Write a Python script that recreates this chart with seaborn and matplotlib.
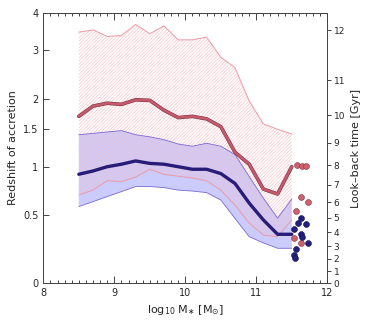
import numpy as np
import pandas as pd
import seaborn as sns
import matplotlib.pyplot as plt
import matplotlib.patheffects as pe
from matplotlib.ticker import MultipleLocator

# Data (redshift of accretion vs stellar mass)
logm = [8.5, 8.7, 8.9, 9.1, 9.3, 9.5, 9.7, 9.9, 10.1, 10.3, 10.5, 10.7, 10.9, 11.1, 11.3, 11.5]
red_hi = [3.46, 3.52, 3.35, 3.37, 3.67, 3.42, 3.63, 3.26, 3.26, 3.33, 2.84, 2.61, 1.96, 1.58, 1.50, 1.43]
red_med = [1.70, 1.87, 1.92, 1.90, 1.98, 1.97, 1.80, 1.68, 1.70, 1.66, 1.54, 1.18, 1.03, 0.75, 0.70, 1.00]
red_lo = [0.69, 0.74, 0.84, 0.83, 0.88, 0.97, 0.91, 0.89, 0.87, 0.84, 0.74, 0.59, 0.43, 0.33, 0.318, 0.456]
blue_hi = [1.42, 1.44, 1.46, 1.48, 1.42, 1.39, 1.35, 1.29, 1.26, 1.30, 1.26, 1.15, 0.886, 0.658, 0.472, 0.65]
blue_med = [0.912, 0.95, 1.0, 1.03, 1.07, 1.04, 1.03, 1.0, 0.97, 0.97, 0.92, 0.81, 0.61, 0.456, 0.337, 0.337]
blue_lo = [0.577, 0.624, 0.674, 0.724, 0.777, 0.777, 0.766, 0.74, 0.73, 0.714, 0.64, 0.47, 0.318, 0.27, 0.23, 0.23]

# individual massive galaxies
red_pts_x = [11.58, 11.64, 11.70, 11.625, 11.73, 11.56, 11.53, 11.625]
red_pts_z = [1.025, 1.01, 1.01, 0.667, 0.618, 0.54, 0.308, 0.272]
blue_pts_x = [11.625, 11.59, 11.70, 11.53, 11.625, 11.64, 11.73, 11.56, 11.53, 11.55]
blue_pts_z = [0.47, 0.43, 0.42, 0.377, 0.337, 0.318, 0.272, 0.223, 0.18, 0.163]

gyr_ticks = list(range(0, 13))

df = pd.DataFrame({'logm': logm, 'red_med': red_med, 'blue_med': blue_med})

sns.set_style('white')
plt.rcParams['font.family'] = ['DejaVu Sans']
plt.rcParams['font.size'] = 7
plt.rcParams['hatch.linewidth'] = 0.45

fig = plt.figure(figsize=(3.74, 3.23), dpi=100)
ax = fig.add_axes([0.1158, 0.1238, 0.7593, 0.836])

# y axis is linear in log10(1+z)
fwd = lambda z: np.log10(1 + np.clip(z, -0.99, None))
inv = lambda y: 10**y - 1
ax.set_yscale('function', functions=(fwd, inv))

pink = '#ec9aa6'
purple = '#7a68d0'

ax.fill_between(logm, blue_lo, blue_hi, facecolor='#cbcbfc', edgecolor='none', lw=0)
ax.fill_between(logm, red_lo, red_hi, facecolor='none', edgecolor='#f6c0c6', hatch='//////////', lw=0)
ax.plot(logm, blue_hi, color=purple, lw=0.6)
ax.plot(logm, blue_lo, color=purple, lw=0.6)
ax.plot(logm, red_hi, color=pink, lw=0.7)
ax.plot(logm, red_lo, color=pink, lw=0.7)

sns.lineplot(data=df, x='logm', y='red_med', color='#c45a6b', lw=1.8, sort=False, ax=ax,
             path_effects=[pe.Stroke(linewidth=2.6, foreground='#7c3342'), pe.Normal()])
sns.lineplot(data=df, x='logm', y='blue_med', color='#281c78', lw=2.4, sort=False, ax=ax)

sns.scatterplot(x=red_pts_x, y=red_pts_z, color='#d0606e', edgecolor='#7c3342', linewidth=0.4, s=18, ax=ax, zorder=5)
sns.scatterplot(x=blue_pts_x, y=blue_pts_z, color='#22207c', edgecolor='#141050', linewidth=0.4, s=18, ax=ax, zorder=5)

ax.set_xlim(8, 12)
ax.set_ylim(0, 4)
ax.set_yticks([0, 0.5, 1, 1.5, 2, 3, 4])
ax.set_yticklabels(['0', '0.5', '1', '1.5', '2', '3', '4'])
ax.yaxis.set_minor_locator(plt.NullLocator())
ax.xaxis.set_major_locator(MultipleLocator(1))
ax.xaxis.set_minor_locator(MultipleLocator(0.1))
ax.tick_params(axis='x', which='major', direction='in', length=5, width=0.6, top=True, bottom=True)
ax.tick_params(axis='x', which='minor', direction='in', length=2.5, width=0.6, top=True, bottom=True)
ax.tick_params(axis='y', which='major', direction='in', length=4, width=0.6, left=True, right=False)
ax.set_xlabel(r'log$_{10}$ M$_{\ast}$ [M$_{\odot}$]', fontsize=8)
ax.set_ylabel('Redshift of accretion', fontsize=8)
for sp in ax.spines.values():
    sp.set_linewidth(0.7)
    sp.set_color('#444444')

# right axis: look-back time (flat LCDM)
H0, Om = 67.7, 0.31
zz = np.linspace(0, 6, 6001)
Ez = np.sqrt(Om * (1 + zz)**3 + 1 - Om)
integrand = 1.0 / ((1 + zz) * Ez)
tlb = 977.8 / H0 * np.concatenate([[0], np.cumsum(0.5 * (integrand[1:] + integrand[:-1]) * np.diff(zz))])
gyr_z = np.interp(gyr_ticks, tlb, zz)

ax2 = ax.twinx()
ax2.set_yscale('function', functions=(fwd, inv))
ax2.set_ylim(0, 4)
ax2.set_yticks(gyr_z)
ax2.set_yticklabels([str(g) for g in gyr_ticks])
ax2.yaxis.set_minor_locator(plt.NullLocator())
ax2.tick_params(axis='y', direction='out', length=3, width=0.6, pad=1.5, labelsize=6.5)
ax2.set_ylabel('Look\u2013back time [Gyr]', fontsize=8, labelpad=4)
for sp in ax2.spines.values():
    sp.set_linewidth(0.7)
    sp.set_color('#444444')

fig.savefig('out.png', dpi=100)
